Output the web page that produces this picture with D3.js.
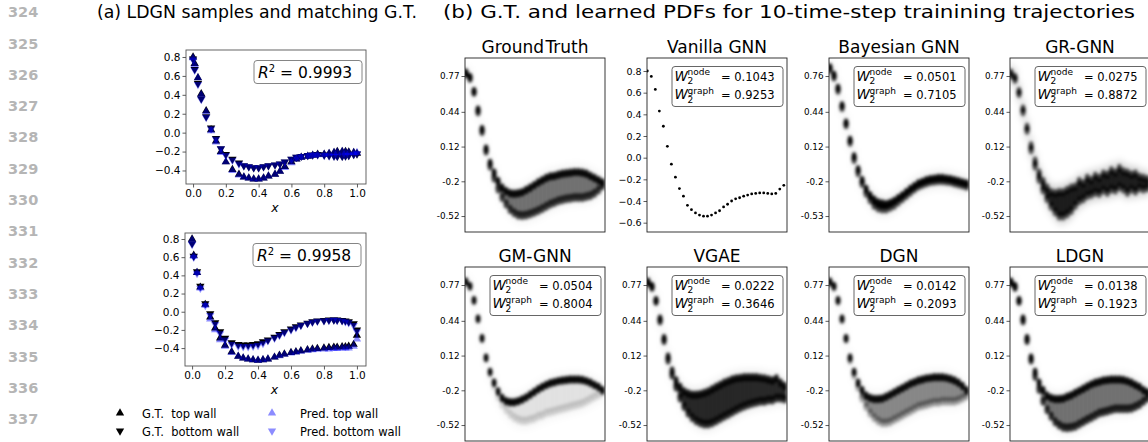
<!DOCTYPE html>
<html>
<head>
<meta charset="utf-8">
<script src="https://d3js.org/d3.v7.min.js"></script>
<style>
  body { margin: 0; background: #fff; }
  svg { display: block; }
  text { font-family: "DejaVu Sans", sans-serif; fill: #000; }
  .lineno { font-weight: bold; fill: #b5b5b5; font-size: 14.5px; }
  .tick { font-size: 10.5px; }
  .ptick { font-size: 8.8px; }
</style>
</head>
<body>
<svg width="1148" height="442"></svg>
<script>
// ---------- data ----------
const lineNumbers = [324, 325, 326, 327, 328, 329, 330, 331, 332, 333, 334, 335, 336, 337];

// (a) node positions along the wall and sampled / reference pressures
const wallX = [0.0, 0.01, 0.03, 0.05, 0.08, 0.11, 0.14, 0.17, 0.20, 0.24, 0.28, 0.31, 0.34, 0.37, 0.40, 0.43, 0.46, 0.50,
  0.53, 0.56, 0.60, 0.63, 0.66, 0.70, 0.73, 0.76, 0.80, 0.83, 0.86, 0.88, 0.91, 0.93, 0.95, 0.98, 1.0];
const topGtTop = [0.80, 0.73, 0.58, 0.41, 0.23, 0.03, -0.09, -0.20, -0.31, -0.39, -0.44, -0.47, -0.48, -0.49, -0.49, -0.48, -0.46, -0.44,
  -0.41, -0.36, -0.31, -0.28, -0.26, -0.25, -0.24, -0.23, -0.23, -0.22, -0.21, -0.20, -0.20, -0.20, -0.205, -0.21, -0.22];
const topGtBot = [0.78, 0.67, 0.52, 0.36, 0.17, 0.05, -0.06, -0.17, -0.23, -0.28, -0.32, -0.35, -0.36, -0.37, -0.37, -0.36, -0.35, -0.34,
  -0.33, -0.31, -0.28, -0.26, -0.25, -0.24, -0.235, -0.23, -0.235, -0.24, -0.245, -0.25, -0.25, -0.245, -0.24, -0.23, -0.225];
const topPredTop = [0.79, 0.72, 0.58, 0.40, 0.22, 0.02, -0.10, -0.21, -0.31, -0.40, -0.45, -0.47, -0.48, -0.49, -0.49, -0.48, -0.46, -0.44,
  -0.41, -0.37, -0.32, -0.28, -0.26, -0.25, -0.24, -0.235, -0.23, -0.22, -0.21, -0.205, -0.20, -0.205, -0.21, -0.21, -0.21];
const topPredBot = [0.77, 0.66, 0.51, 0.35, 0.16, 0.04, -0.07, -0.17, -0.24, -0.29, -0.33, -0.35, -0.36, -0.37, -0.37, -0.36, -0.35, -0.34,
  -0.33, -0.31, -0.28, -0.26, -0.25, -0.24, -0.235, -0.235, -0.24, -0.245, -0.25, -0.25, -0.25, -0.245, -0.24, -0.23, -0.22];
const botGtTop = [0.80, 0.62, 0.43, 0.27, 0.08, -0.06, -0.18, -0.29, -0.37, -0.44, -0.49, -0.51, -0.52, -0.53, -0.535, -0.53, -0.52, -0.50,
  -0.48, -0.465, -0.45, -0.44, -0.43, -0.42, -0.41, -0.405, -0.40, -0.395, -0.39, -0.39, -0.385, -0.385, -0.38, -0.36, -0.26];
const botGtBot = [0.75, 0.61, 0.44, 0.28, 0.09, -0.02, -0.12, -0.22, -0.29, -0.34, -0.36, -0.365, -0.365, -0.36, -0.35, -0.33, -0.31, -0.28,
  -0.25, -0.22, -0.19, -0.165, -0.145, -0.125, -0.11, -0.10, -0.095, -0.09, -0.09, -0.09, -0.095, -0.10, -0.11, -0.13, -0.20];
const botPredTop = [0.79, 0.61, 0.43, 0.26, 0.07, -0.08, -0.20, -0.31, -0.38, -0.45, -0.49, -0.51, -0.52, -0.53, -0.535, -0.53, -0.52, -0.50,
  -0.485, -0.47, -0.455, -0.445, -0.435, -0.425, -0.42, -0.415, -0.41, -0.41, -0.405, -0.405, -0.40, -0.40, -0.40, -0.38, -0.30];
const botPredBot = [0.74, 0.60, 0.42, 0.26, 0.07, -0.04, -0.14, -0.24, -0.31, -0.36, -0.38, -0.385, -0.385, -0.38, -0.37, -0.35, -0.32, -0.29,
  -0.26, -0.23, -0.20, -0.175, -0.15, -0.13, -0.115, -0.105, -0.10, -0.095, -0.09, -0.095, -0.10, -0.11, -0.12, -0.15, -0.22];
const r2Values = ["0.9993", "0.9958"];
const aYTicks = [-0.4, -0.2, 0.0, 0.2, 0.4, 0.6, 0.8];
const aXTicks = [0.0, 0.2, 0.4, 0.6, 0.8, 1.0];
const legendLabels = ["G.T.  top wall", "G.T.  bottom wall", "Pred. top wall", "Pred. bottom wall"];

// (b) learned PDFs
const pdfTitles = ["Ground Truth", "Vanilla GNN", "Bayesian GNN", "GR-GNN", "GM-GNN", "VGAE", "DGN", "LDGN"];
const w2Node = [null, "0.1043", "0.0501", "0.0275", "0.0504", "0.0222", "0.0142", "0.0138"];
const w2Graph = [null, "0.9253", "0.7105", "0.8872", "0.8004", "0.3646", "0.2093", "0.1923"];
const pdfTickValues = [0.77, 0.44, 0.12, -0.2, -0.52];
const pdfTickLabels = ["0.77", "0.44", "0.12", "-0.2", "-0.52"];
const bayesTickLabels = ["0.76", "0.44", "0.12", "-0.2", "-0.53"];
const vanillaTicks = [-0.6, -0.4, -0.2, 0.0, 0.2, 0.4, 0.6, 0.8];
const vanillaMean = [0.80, 0.75, 0.63, 0.43, 0.29, 0.105, -0.06, -0.18, -0.285, -0.355, -0.44, -0.48, -0.51, -0.53, -0.54, -0.54, -0.53,
  -0.51, -0.49, -0.455, -0.43, -0.40, -0.38, -0.37, -0.355, -0.345, -0.335, -0.33, -0.325, -0.325, -0.33, -0.335, -0.33, -0.29, -0.255];

// upper / lower edge of the density band for each node index
const gtUpper = [0.80, 0.76, 0.63, 0.46, 0.28, 0.10, -0.03, -0.12, -0.20, -0.26, -0.29, -0.31, -0.315, -0.31, -0.30, -0.28, -0.26, -0.235,
  -0.21, -0.19, -0.17, -0.155, -0.15, -0.14, -0.13, -0.125, -0.12, -0.115, -0.115, -0.12, -0.13, -0.15, -0.17, -0.19, -0.21];
const gtLower = [0.79, 0.75, 0.62, 0.44, 0.26, 0.08, -0.06, -0.17, -0.27, -0.35, -0.41, -0.46, -0.49, -0.51, -0.515, -0.51, -0.50, -0.485,
  -0.47, -0.45, -0.43, -0.41, -0.395, -0.38, -0.37, -0.36, -0.355, -0.35, -0.35, -0.35, -0.34, -0.33, -0.31, -0.28, -0.24];
const bayesUpper = [0.85, 0.78, 0.66, 0.50, 0.34, 0.18, 0.03, -0.09, -0.19, -0.27, -0.33, -0.37, -0.395, -0.405, -0.41, -0.40, -0.38, -0.355,
  -0.33, -0.30, -0.27, -0.245, -0.22, -0.205, -0.19, -0.18, -0.175, -0.17, -0.17, -0.175, -0.18, -0.19, -0.20, -0.21, -0.22];
const bayesLower = [0.83, 0.76, 0.64, 0.48, 0.32, 0.16, 0.00, -0.12, -0.22, -0.31, -0.37, -0.42, -0.445, -0.455, -0.455, -0.44, -0.42, -0.39,
  -0.36, -0.33, -0.30, -0.27, -0.245, -0.23, -0.215, -0.205, -0.20, -0.195, -0.195, -0.20, -0.205, -0.215, -0.225, -0.235, -0.245];
const grUpper = [0.80, 0.76, 0.63, 0.47, 0.30, 0.13, -0.01, -0.12, -0.20, -0.26, -0.30, -0.31, -0.30, -0.30, -0.28, -0.26, -0.25, -0.20,
  -0.22, -0.17, -0.19, -0.15, -0.17, -0.13, -0.14, -0.10, -0.12, -0.08, -0.11, -0.12, -0.14, -0.13, -0.16, -0.17, -0.18];
const grLower = [0.78, 0.74, 0.61, 0.44, 0.27, 0.09, -0.06, -0.18, -0.28, -0.36, -0.43, -0.48, -0.52, -0.52, -0.50, -0.47, -0.42, -0.38,
  -0.36, -0.33, -0.32, -0.30, -0.31, -0.28, -0.30, -0.27, -0.28, -0.25, -0.27, -0.30, -0.27, -0.29, -0.26, -0.27, -0.26];
const gmUpper = [0.80, 0.76, 0.63, 0.46, 0.28, 0.10, -0.03, -0.13, -0.21, -0.27, -0.30, -0.31, -0.31, -0.30, -0.285, -0.265, -0.24, -0.215,
  -0.19, -0.17, -0.15, -0.135, -0.125, -0.115, -0.11, -0.105, -0.10, -0.10, -0.10, -0.105, -0.115, -0.13, -0.15, -0.17, -0.20];
const gmLower = [0.79, 0.75, 0.62, 0.45, 0.27, 0.09, -0.05, -0.16, -0.26, -0.33, -0.38, -0.42, -0.45, -0.47, -0.48, -0.48, -0.47, -0.46,
  -0.44, -0.43, -0.41, -0.40, -0.39, -0.38, -0.37, -0.36, -0.35, -0.34, -0.33, -0.32, -0.30, -0.28, -0.26, -0.24, -0.22];
const vgaeUpper = [0.80, 0.76, 0.63, 0.46, 0.28, 0.11, -0.02, -0.11, -0.17, -0.21, -0.23, -0.24, -0.24, -0.235, -0.225, -0.21, -0.19, -0.17,
  -0.15, -0.13, -0.115, -0.10, -0.09, -0.085, -0.08, -0.08, -0.08, -0.08, -0.085, -0.09, -0.10, -0.11, -0.09, -0.13, -0.16];
const vgaeLower = [0.79, 0.75, 0.62, 0.44, 0.26, 0.08, -0.06, -0.17, -0.27, -0.35, -0.41, -0.45, -0.48, -0.50, -0.51, -0.51, -0.50, -0.48,
  -0.46, -0.44, -0.42, -0.40, -0.38, -0.36, -0.345, -0.33, -0.32, -0.31, -0.30, -0.30, -0.29, -0.29, -0.27, -0.27, -0.28];
const dgnUpper = [0.80, 0.76, 0.63, 0.46, 0.28, 0.10, -0.03, -0.13, -0.20, -0.25, -0.27, -0.28, -0.28, -0.275, -0.26, -0.24, -0.22, -0.20,
  -0.18, -0.16, -0.14, -0.125, -0.11, -0.10, -0.09, -0.085, -0.08, -0.08, -0.08, -0.085, -0.095, -0.11, -0.13, -0.16, -0.20];
const dgnLower = [0.79, 0.75, 0.62, 0.45, 0.27, 0.08, -0.06, -0.17, -0.27, -0.35, -0.41, -0.45, -0.48, -0.50, -0.50, -0.49, -0.47, -0.45,
  -0.43, -0.41, -0.39, -0.37, -0.35, -0.34, -0.33, -0.32, -0.31, -0.31, -0.30, -0.30, -0.30, -0.30, -0.29, -0.27, -0.25];
const ldgnUpper = [0.80, 0.76, 0.63, 0.46, 0.28, 0.10, -0.03, -0.13, -0.20, -0.25, -0.27, -0.28, -0.28, -0.275, -0.26, -0.245, -0.225, -0.205,
  -0.185, -0.165, -0.145, -0.13, -0.12, -0.11, -0.105, -0.10, -0.10, -0.10, -0.105, -0.115, -0.13, -0.15, -0.17, -0.20, -0.22];
const ldgnLower = [0.79, 0.75, 0.62, 0.44, 0.26, 0.08, -0.07, -0.19, -0.30, -0.38, -0.44, -0.49, -0.52, -0.54, -0.545, -0.54, -0.53, -0.51,
  -0.49, -0.47, -0.45, -0.43, -0.41, -0.40, -0.39, -0.38, -0.37, -0.37, -0.37, -0.37, -0.365, -0.35, -0.33, -0.30, -0.27];

// ---------- drawing ----------
const svg = d3.select("svg");
const defs = svg.append("defs");
defs.append("filter").attr("id", "blur").attr("x", "-20%").attr("y", "-20%").attr("width", "140%").attr("height", "140%")
  .append("feGaussianBlur").attr("stdDeviation", 1.7);
defs.append("filter").attr("id", "blurWide").attr("x", "-20%").attr("y", "-20%").attr("width", "140%").attr("height", "140%")
  .append("feGaussianBlur").attr("stdDeviation", 3);

// line numbers of the page
svg.selectAll(".lineno").data(lineNumbers).join("text")
  .attr("class", "lineno")
  .attr("x", 8).attr("y", (d, i) => 17.2 + i * 31.3)
  .text(d => d);

svg.append("text").attr("x", 97).attr("y", 18).style("font-size", "17.5px")
  .attr("textLength", 320).attr("lengthAdjust", "spacingAndGlyphs")
  .text("(a) LDGN samples and matching G.T.");
svg.append("text").attr("x", 443).attr("y", 18).style("font-size", "17.5px")
  .attr("textLength", 692).attr("lengthAdjust", "spacingAndGlyphs")
  .text("(b) G.T. and learned PDFs for 10-time-step trainining trajectories");

// ---- (a) two sample plots ----
const triUp = d3.symbol().type(d3.symbolTriangle).size(30);
const fmt1 = d3.format(".1f");

function samplePlot(left, top, w, h, yDomain, gtTop, gtBot, prTop, prBot, r2) {
  const x = d3.scaleLinear().domain([-0.043, 1.055]).range([left, left + w]);
  const y = d3.scaleLinear().domain(yDomain).range([top + h, top]);
  const g = svg.append("g");
  g.append("g").attr("transform", `translate(0,${top + h})`)
    .call(d3.axisBottom(x).tickValues(aXTicks).tickFormat(fmt1).tickSize(3.5).tickPadding(2))
    .call(s => s.selectAll("text").attr("class", "tick"));
  g.append("g").attr("transform", `translate(${left},0)`)
    .call(d3.axisLeft(y).tickValues(aYTicks).tickFormat(fmt1).tickSize(3.5).tickPadding(2))
    .call(s => s.selectAll("text").attr("class", "tick"));
  g.selectAll(".domain").remove();
  g.selectAll(".tick line").attr("stroke", "#333").attr("stroke-width", 0.8);
  g.append("rect").attr("x", left).attr("y", top).attr("width", w).attr("height", h)
    .attr("fill", "none").attr("stroke", "#555").attr("stroke-width", 0.9);

  const layers = [
    { vals: gtTop, down: false, fill: "#000", op: 1 },
    { vals: gtBot, down: true, fill: "#000", op: 1 },
    { vals: prTop, down: false, fill: "#0000ff", op: 0.45 },
    { vals: prBot, down: true, fill: "#0000ff", op: 0.45 }
  ];
  layers.forEach(L => {
    g.append("g").selectAll("path").data(L.vals).join("path")
      .attr("d", triUp)
      .attr("transform", (d, i) => `translate(${x(wallX[i])},${y(d)})${L.down ? " rotate(180)" : ""}`)
      .attr("fill", L.fill).attr("fill-opacity", L.op);
  });

  // R^2 box
  const bx = left + 68, by = top + 10.5;
  g.append("rect").attr("x", bx).attr("y", by).attr("width", 108).attr("height", 23)
    .attr("rx", 3).attr("fill", "#fff").attr("fill-opacity", 0.85).attr("stroke", "#777").attr("stroke-width", 0.9);
  const t = g.append("text").attr("x", bx + 4).attr("y", by + 17.5).style("font-size", "15.5px");
  t.append("tspan").style("font-style", "italic").text("R");
  t.append("tspan").attr("dy", -6).style("font-size", "10px").text("2");
  t.append("tspan").attr("dy", 6).text(" = " + r2);

  g.append("text").attr("x", x(0.5)).attr("y", top + h + 28).attr("text-anchor", "middle")
    .style("font-size", "12.5px").style("font-style", "italic").text("x");
}

samplePlot(186, 50, 180, 134, [-0.543, 0.874], topGtTop, topGtBot, topPredTop, topPredBot, r2Values[0]);
samplePlot(185, 233, 181, 133, [-0.597, 0.866], botGtTop, botGtBot, botPredTop, botPredBot, r2Values[1]);

// legend
const legend = [
  { label: legendLabels[0], x: 120, y: 413, down: false, fill: "#000", op: 1 },
  { label: legendLabels[1], x: 120, y: 431, down: true, fill: "#000", op: 1 },
  { label: legendLabels[2], x: 272, y: 413, down: false, fill: "#0000ff", op: 0.45 },
  { label: legendLabels[3], x: 272, y: 431, down: true, fill: "#0000ff", op: 0.45 }
];
legend.forEach(L => {
  svg.append("path").attr("d", triUp)
    .attr("transform", `translate(${L.x},${L.y})${L.down ? " rotate(180)" : ""}`)
    .attr("fill", L.fill).attr("fill-opacity", L.op);
  svg.append("text").attr("x", L.x + (L.op < 1 ? 28 : 22)).attr("y", L.y + 4.5)
    .style("font-size", "11.5px").attr("xml:space", "preserve").text(L.label);
});

// ---- (b) PDF panels ----
const colLeft = [465, 647, 829, 1010];
const rowTop = [58, 267];
const pw = 140, ph = 174;
const bands = [
  { up: gtUpper, lo: gtLower, st: { edge: 0.95, fill: 0.5, low: 0.75, halo: 0.04 } },
  null,
  { up: bayesUpper, lo: bayesLower, st: { edge: 0.95, fill: 0.95, low: 0.7, halo: 0.05 } },
  { up: grUpper, lo: grLower, st: { edge: 0.7, fill: 0.85, low: 0.65, halo: 0.14 } },
  { up: gmUpper, lo: gmLower, st: { edge: 0.97, fill: 0.08, low: 0.14, halo: 0.03 } },
  { up: vgaeUpper, lo: vgaeLower, st: { edge: 0.9, fill: 0.82, low: 0.8, halo: 0.05 } },
  { up: dgnUpper, lo: dgnLower, st: { edge: 0.95, fill: 0.42, low: 0.35, halo: 0.03 } },
  { up: ldgnUpper, lo: ldgnLower, st: { edge: 0.95, fill: 0.5, low: 0.8, halo: 0.04 } }
];

pdfTitles.forEach((title, k) => {
  const left = colLeft[k % 4], top = rowTop[Math.floor(k / 4)];
  const g = svg.append("g");
  const clipId = "clip" + k;
  defs.append("clipPath").attr("id", clipId).append("rect")
    .attr("x", left).attr("y", top).attr("width", pw).attr("height", ph);
  const x = d3.scaleLinear().domain([0, 34]).range([left + 1, left + 137.5]);

  if (k === 1) {
    const y = d3.scaleLinear().domain([-0.686, 0.92]).range([top + ph, top]);
    g.append("g").attr("transform", `translate(${left},0)`)
      .call(d3.axisLeft(y).tickValues(vanillaTicks).tickFormat(fmt1).tickSize(3.5).tickPadding(2))
      .call(s => s.selectAll("text").attr("class", "ptick").style("font-size", "9.5px"));
    g.append("g").attr("clip-path", `url(#${clipId})`)
      .selectAll("circle").data(vanillaMean).join("circle")
      .attr("cx", (d, i) => x(i) - 0.7).attr("cy", d => y(d)).attr("r", 1.4).attr("fill", "#000");
  } else {
    const y = d3.scaleLinear().domain([-0.667, 0.936]).range([top + ph, top]);
    const labels = k === 2 ? bayesTickLabels : pdfTickLabels;
    g.append("g").attr("transform", `translate(${left},0)`)
      .call(d3.axisLeft(y).tickValues(pdfTickValues).tickFormat((d, i) => labels[i]).tickSize(3.5).tickPadding(2))
      .call(s => s.selectAll("text").attr("class", "ptick"));
    const b = bands[k];
    const clip = g.append("g").attr("clip-path", `url(#${clipId})`);
    if (b.st.halo > 0) {
      clip.append("g").attr("filter", "url(#blurWide)")
        .selectAll("rect").data(b.up).join("rect")
        .attr("x", (d, i) => x(i) - 2.2).attr("width", 4.4)
        .attr("y", d => y(d + 0.08))
        .attr("height", (d, i) => Math.max(0, y(b.lo[i] - 0.08) - y(d + 0.08)))
        .attr("fill", "#000").attr("fill-opacity", b.st.halo);
    }
    const blob = clip.append("g").attr("filter", "url(#blur)");
    blob.selectAll("rect").data(b.up).join("rect")
      .attr("x", (d, i) => x(i) - 2.3).attr("width", 4.6)
      .attr("y", d => y(d))
      .attr("height", (d, i) => Math.max(0, y(b.lo[i]) - y(d)))
      .attr("fill", "#000").attr("fill-opacity", b.st.fill);
    blob.selectAll("ellipse.lo").data(b.lo).join("ellipse").attr("class", "lo")
      .attr("cx", (d, i) => x(i)).attr("cy", d => y(d)).attr("rx", 2.6).attr("ry", 4.5)
      .attr("fill", "#000").attr("fill-opacity", b.st.low);
    blob.selectAll("ellipse.up").data(b.up).join("ellipse").attr("class", "up")
      .attr("cx", (d, i) => x(i)).attr("cy", d => y(d)).attr("rx", 2.4).attr("ry", 4.2)
      .attr("fill", "#000").attr("fill-opacity", b.st.edge);
  }
  g.selectAll(".domain").remove();
  g.selectAll(".tick line").attr("stroke", "#333").attr("stroke-width", 0.8);
  g.append("rect").attr("x", left).attr("y", top).attr("width", pw).attr("height", ph)
    .attr("fill", "none").attr("stroke", "#222").attr("stroke-width", 0.9);

  g.append("text").attr("x", left + pw / 2).attr("y", top - 5).attr("text-anchor", "middle")
    .style("font-size", "17px").style("word-spacing", k === 0 ? "-4px" : "0px").text(title);

  if (w2Node[k]) {
    const bx = left + 25, by = top + 8.5;
    g.append("rect").attr("x", bx).attr("y", by).attr("width", 111).attr("height", 40)
      .attr("rx", 3).attr("fill", "#fff").attr("fill-opacity", 0.85).attr("stroke", "#555").attr("stroke-width", 0.9);
    [["node", w2Node[k], 14], ["graph", w2Graph[k], 32.5]].forEach(([sup, val, dy]) => {
      g.append("text").attr("x", bx + 2.5).attr("y", by + dy).style("font-size", "13.5px")
        .style("font-style", "italic").text("W");
      g.append("text").attr("x", bx + 15.5).attr("y", by + dy + 3.5).style("font-size", "9px").text("2");
      g.append("text").attr("x", bx + 15.5).attr("y", by + dy - 5.5).style("font-size", "9px").text(sup);
      g.append("text").attr("x", bx + 49).attr("y", by + dy).style("font-size", "11.5px").text("= " + val);
    });
  }
});
</script>
</body>
</html>
